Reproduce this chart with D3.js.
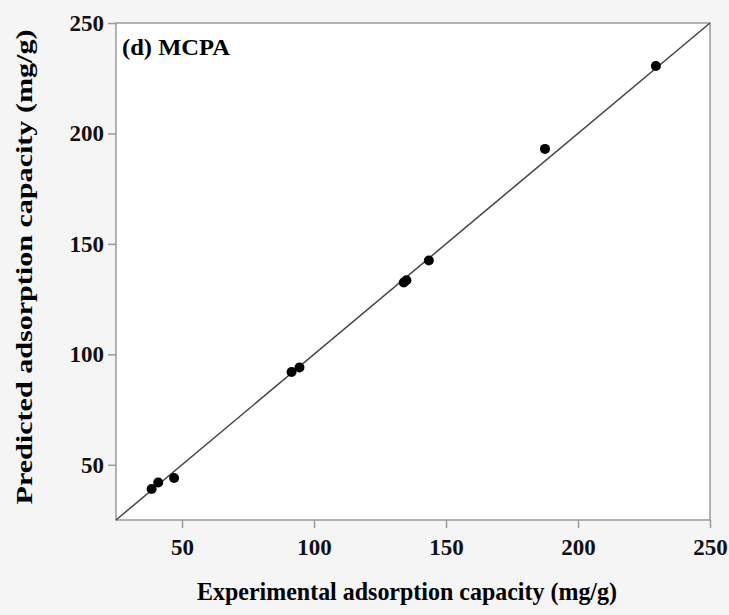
<!DOCTYPE html>
<html>
<head>
<meta charset="utf-8">
<script src="https://cdn.jsdelivr.net/npm/d3@7"></script>
<style>
  body { margin: 0; background: #f5f5f5; }
  svg { display: block; }
  .tick text { font-family: "Liberation Serif", serif; font-weight: bold; font-size: 23px; fill: #111; }
</style>
</head>
<body>
<svg id="chart" width="729" height="615"></svg>
<script>
// experimental vs predicted (mg/g)
var experimental = [38.5, 41, 47, 91.5, 94.5, 134, 135, 143.5, 187.5, 229.5];
var predicted = [39, 42, 44, 92, 94, 132.5, 133.5, 142.5, 193, 230.5];
var xTicks = [50, 100, 150, 200, 250];
var yTicks = [50, 100, 150, 200, 250];
var domainAll = [25, 250];

var svg = d3.select("#chart");
var margin = { left: 116, top: 23, right: 19, bottom: 95 };
var w = 729 - margin.left - margin.right;
var h = 615 - margin.top - margin.bottom;

var x = d3.scaleLinear().domain(domainAll).range([0, w]);
var y = d3.scaleLinear().domain(domainAll).range([h, 0]);

var g = svg.append("g").attr("transform", "translate(" + margin.left + "," + margin.top + ")");

// plot area
g.append("rect")
    .attr("width", w).attr("height", h)
    .attr("fill", "white")
    .attr("stroke", "#9a9a9a")
    .attr("stroke-width", 1.5);

var xAxis = g.append("g")
    .attr("transform", "translate(0," + h + ")")
    .call(d3.axisBottom(x).tickValues(xTicks).tickSize(8).tickPadding(11));
var yAxis = g.append("g")
    .call(d3.axisLeft(y).tickValues(yTicks).tickSize(8).tickPadding(4));

[xAxis, yAxis].forEach(function (a) {
    a.select(".domain").remove();
    a.selectAll(".tick line").attr("stroke", "#9a9a9a").attr("stroke-width", 1.5);
});

// 1:1 line
g.append("line")
    .attr("x1", x(domainAll[0])).attr("y1", y(domainAll[0]))
    .attr("x2", x(domainAll[1])).attr("y2", y(domainAll[1]))
    .attr("stroke", "#444")
    .attr("stroke-width", 1.5);

g.selectAll("circle.pt")
    .data(d3.range(experimental.length))
    .enter().append("circle")
    .attr("class", "pt")
    .attr("cx", function (i) { return x(experimental[i]); })
    .attr("cy", function (i) { return y(predicted[i]); })
    .attr("r", 5)
    .attr("fill", "#000");

g.append("text")
    .attr("x", 6).attr("y", 32)
    .attr("textLength", 108)
    .attr("lengthAdjust", "spacingAndGlyphs")
    .style("font-family", "Liberation Serif, serif")
    .style("font-weight", "bold")
    .style("font-size", "24px")
    .text("(d) MCPA");

svg.append("text")
    .attr("x", 407).attr("y", 600)
    .attr("text-anchor", "middle")
    .attr("textLength", 420)
    .attr("lengthAdjust", "spacingAndGlyphs")
    .style("font-family", "Liberation Serif, serif")
    .style("font-weight", "bold")
    .style("font-size", "25px")
    .text("Experimental adsorption capacity (mg/g)");

svg.append("text")
    .attr("transform", "translate(32,267) rotate(-90)")
    .attr("text-anchor", "middle")
    .attr("textLength", 475)
    .attr("lengthAdjust", "spacingAndGlyphs")
    .style("font-family", "Liberation Serif, serif")
    .style("font-weight", "bold")
    .style("font-size", "24px")
    .text("Predicted adsorption capacity (mg/g)");
</script>
</body>
</html>
